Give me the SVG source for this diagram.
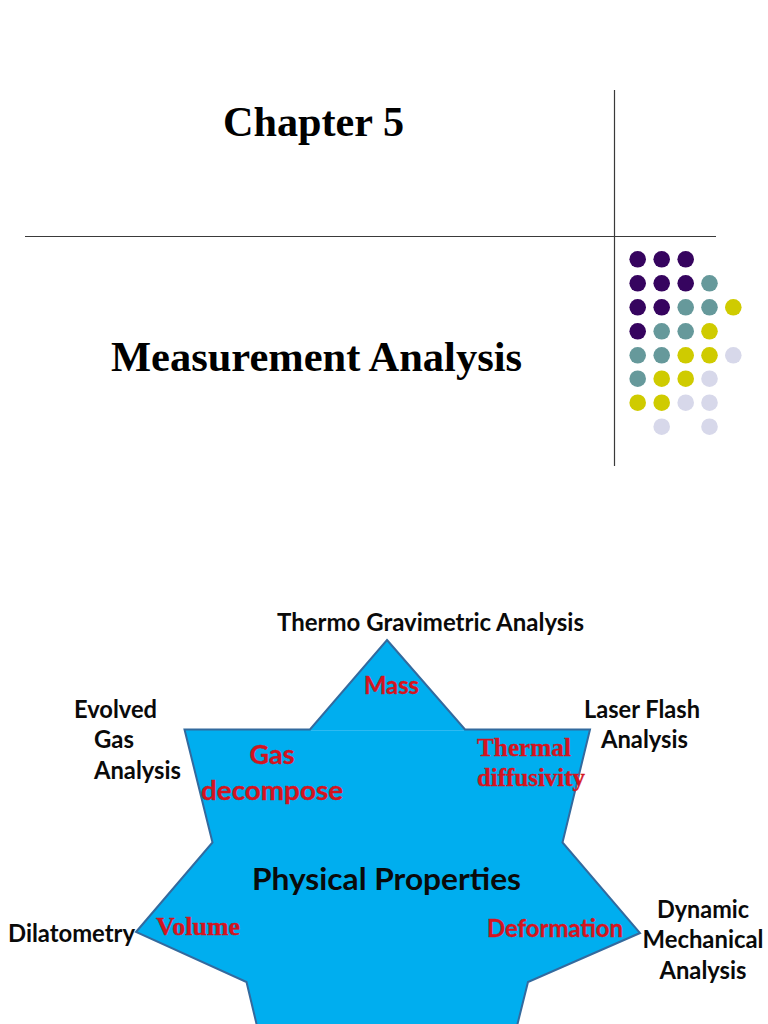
<svg xmlns="http://www.w3.org/2000/svg" width="768" height="1024" viewBox="0 0 768 1024">
<style>
.ser{font-family:"Liberation Serif","Times New Roman",serif;font-weight:700}
.san{font-family:Lato,"Liberation Sans",sans-serif;font-weight:700}
.k{fill:#0a0a0a;font-size:25px}
.r{fill:#d4141f;stroke:#d4141f;stroke-width:.35}
.rule{stroke:#3a3a3a;stroke-width:1.2;fill:none}
.p{fill:#36045f}.t{fill:#66999b}.y{fill:#cfcb00}.l{fill:#d7d8ea}
</style>
<rect width="768" height="1024" fill="#fff"/>
<g id="connectors">
<line class="rule" x1="614.500" y1="90" x2="614.500" y2="466"/>
<line class="rule" x1="25" y1="236.500" x2="716" y2="236.500"/>
</g>
<g id="title">
<text class="ser" x="223" y="136" font-size="43" fill="#000" textLength="181" lengthAdjust="spacingAndGlyphs">Chapter 5</text>
<text class="ser" x="111" y="371" font-size="42" fill="#000" textLength="411" lengthAdjust="spacingAndGlyphs">Measurement Analysis</text>
</g>
<g id="dots">
<circle class="p" cx="637.7" cy="259.3" r="8.3"/><circle class="p" cx="661.7" cy="259.3" r="8.3"/><circle class="p" cx="685.7" cy="259.3" r="8.3"/>
<circle class="p" cx="637.7" cy="283.3" r="8.3"/><circle class="p" cx="661.7" cy="283.3" r="8.3"/><circle class="p" cx="685.7" cy="283.3" r="8.3"/><circle class="t" cx="709.5" cy="283.3" r="8.3"/>
<circle class="p" cx="637.7" cy="307.3" r="8.3"/><circle class="p" cx="661.7" cy="307.3" r="8.3"/><circle class="t" cx="685.7" cy="307.3" r="8.3"/><circle class="t" cx="709.5" cy="307.3" r="8.3"/><circle class="y" cx="733.3" cy="307.3" r="8.3"/>
<circle class="p" cx="637.7" cy="331.3" r="8.3"/><circle class="t" cx="661.7" cy="331.3" r="8.3"/><circle class="t" cx="685.7" cy="331.3" r="8.3"/><circle class="y" cx="709.5" cy="331.3" r="8.3"/>
<circle class="t" cx="637.7" cy="355.3" r="8.3"/><circle class="t" cx="661.7" cy="355.3" r="8.3"/><circle class="y" cx="685.7" cy="355.3" r="8.3"/><circle class="y" cx="709.5" cy="355.3" r="8.3"/><circle class="l" cx="733.3" cy="355.3" r="8.3"/>
<circle class="t" cx="637.7" cy="378.7" r="8.3"/><circle class="y" cx="661.7" cy="378.7" r="8.3"/><circle class="y" cx="685.7" cy="378.7" r="8.3"/><circle class="l" cx="709.5" cy="378.7" r="8.3"/>
<circle class="y" cx="637.7" cy="402.7" r="8.3"/><circle class="y" cx="661.7" cy="402.7" r="8.3"/><circle class="l" cx="685.7" cy="402.7" r="8.3"/><circle class="l" cx="709.5" cy="402.7" r="8.3"/>
<circle class="l" cx="661.7" cy="426.7" r="8.3"/><circle class="l" cx="709.5" cy="426.7" r="8.3"/>
</g>
<g id="star">
<path d="M387 640L465 729.500H590L562.500 842.500L640 933L528 982L517 1026H257L246.500 982L136 932L212.500 842.500L184.500 729.500H310Z" fill="#00aeef" stroke="#336a9e" stroke-width="2" stroke-linejoin="miter"/>
<line x1="311" y1="730.500" x2="464" y2="730.500" stroke="#2dbaf2" stroke-width="1"/>
<text class="san k" x="277" y="631" textLength="307" lengthAdjust="spacingAndGlyphs">Thermo Gravimetric Analysis</text>
<text class="san k" x="74" y="718" textLength="83" lengthAdjust="spacingAndGlyphs">Evolved</text>
<text class="san k" x="94" y="748" textLength="40" lengthAdjust="spacingAndGlyphs">Gas</text>
<text class="san k" x="94" y="779" textLength="87" lengthAdjust="spacingAndGlyphs">Analysis</text>
<text class="san k" x="584" y="718" textLength="116" lengthAdjust="spacingAndGlyphs">Laser Flash</text>
<text class="san k" x="601" y="748" textLength="87" lengthAdjust="spacingAndGlyphs">Analysis</text>
<text class="san k" x="8" y="942" textLength="127" lengthAdjust="spacingAndGlyphs">Dilatometry</text>
<text class="san k" x="703" y="918" text-anchor="middle" textLength="92" lengthAdjust="spacingAndGlyphs">Dynamic</text>
<text class="san k" x="703" y="948" text-anchor="middle" textLength="121" lengthAdjust="spacingAndGlyphs">Mechanical</text>
<text class="san k" x="703" y="979" text-anchor="middle" textLength="87" lengthAdjust="spacingAndGlyphs">Analysis</text>
<text class="san" x="252" y="890" font-size="31" fill="#0a0a0a" textLength="269" lengthAdjust="spacingAndGlyphs">Physical Properties</text>
<text class="san r" x="364" y="694" font-size="24" textLength="55" lengthAdjust="spacingAndGlyphs">Mass</text>
<text class="san r" x="272" y="764" font-size="27" text-anchor="middle" textLength="45" lengthAdjust="spacingAndGlyphs">Gas</text>
<text class="san r" x="272" y="800" font-size="27" text-anchor="middle" textLength="142" lengthAdjust="spacingAndGlyphs">decompose</text>
<text class="ser r" x="477" y="756" font-size="26" textLength="94" lengthAdjust="spacingAndGlyphs">Thermal</text>
<text class="ser r" x="477" y="786" font-size="26" textLength="108" lengthAdjust="spacingAndGlyphs">diffusivity</text>
<text class="ser r" x="156" y="935" font-size="25" textLength="84" lengthAdjust="spacingAndGlyphs">Volume</text>
<text class="san r" x="487" y="937" font-size="24" textLength="136" lengthAdjust="spacingAndGlyphs">Deformation</text>
</g>
</svg>
